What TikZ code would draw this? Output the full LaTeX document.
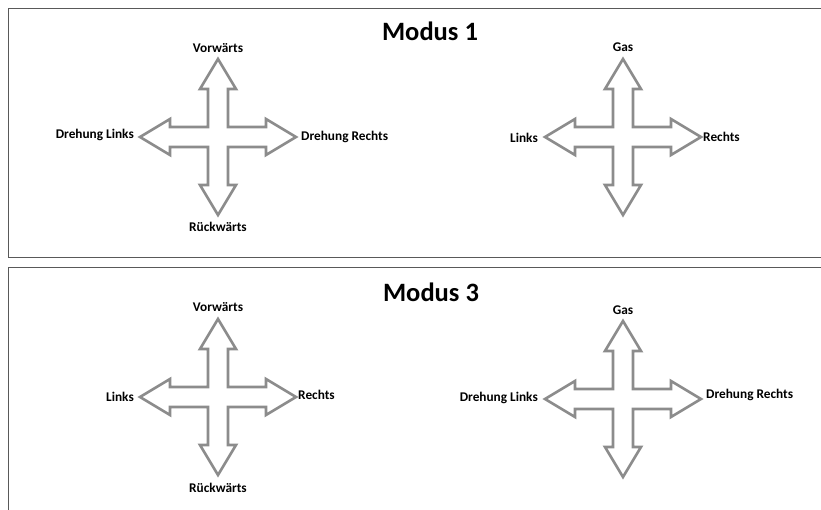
\documentclass[tikz,border=0pt]{standalone}
\usepackage{fontspec}
\setmainfont{Carlito}
\begin{document}
\begin{tikzpicture}[x=1pt,y=-1pt,
  lbl/.style={font=\bfseries\fontsize{13.3}{15}\selectfont, inner sep=0pt},
  ttl/.style={font=\bfseries\fontsize{26.5}{30}\selectfont, inner sep=0pt},
  frame/.style={draw=black!65, line width=0.9pt},
  crossline/.style={draw=black!45, line width=2.6pt, line join=miter, fill=white},
  pics/crossarrow/.style={code={
    \draw[crossline] (0,-78) -- (18,-48) -- (10,-48) -- (10,-10) -- (48,-10) -- (48,-18)
      -- (78,0) -- (48,18) -- (48,10) -- (10,10) -- (10,48) -- (18,48) -- (0,78)
      -- (-18,48) -- (-10,48) -- (-10,10) -- (-48,10) -- (-48,18) -- (-78,0)
      -- (-48,-18) -- (-48,-10) -- (-10,-10) -- (-10,-48) -- (-18,-48) -- cycle;
  }}]
\useasboundingbox (0,0) rectangle (821,510);
\begin{scope}
\clip (0,0) rectangle (821,510);
\draw[frame] (8,8) rectangle (835,257);
\draw[frame] (8,267) rectangle (835,525);
\end{scope}

% Modus 1
\node[ttl] (t1) at (430,31) {Modus 1};
\pic at (218,137) {crossarrow};
\node[lbl] (a1) at (218,48) {Vorwärts};
\node[lbl,anchor=east] (b1) at (134,135) {Drehung Links};
\node[lbl,anchor=west] (c1) at (301,137) {Drehung Rechts};
\node[lbl] (d1) at (218,227) {Rückwärts};

\pic at (623,137) {crossarrow};
\node[lbl] (a2) at (623,47) {Gas};
\node[lbl,anchor=east] (b2) at (538,138) {Links};
\node[lbl,anchor=west] (c2) at (703,137) {Rechts};

% Modus 3
\node[ttl] (t3) at (431,292) {Modus 3};
\pic at (218,397) {crossarrow};
\node[lbl] (a3) at (218,307) {Vorwärts};
\node[lbl,anchor=east] (b3) at (134,397) {Links};
\node[lbl,anchor=west] (c3) at (298,395) {Rechts};
\node[lbl] (d3) at (218,488) {Rückwärts};

\pic at (623,399) {crossarrow};
\node[lbl] (a4) at (623,310) {Gas};
\node[lbl,anchor=east] (b4) at (538,398) {Drehung Links};
\node[lbl,anchor=west] (c4) at (706,395) {Drehung Rechts};
\end{tikzpicture}
\end{document}
